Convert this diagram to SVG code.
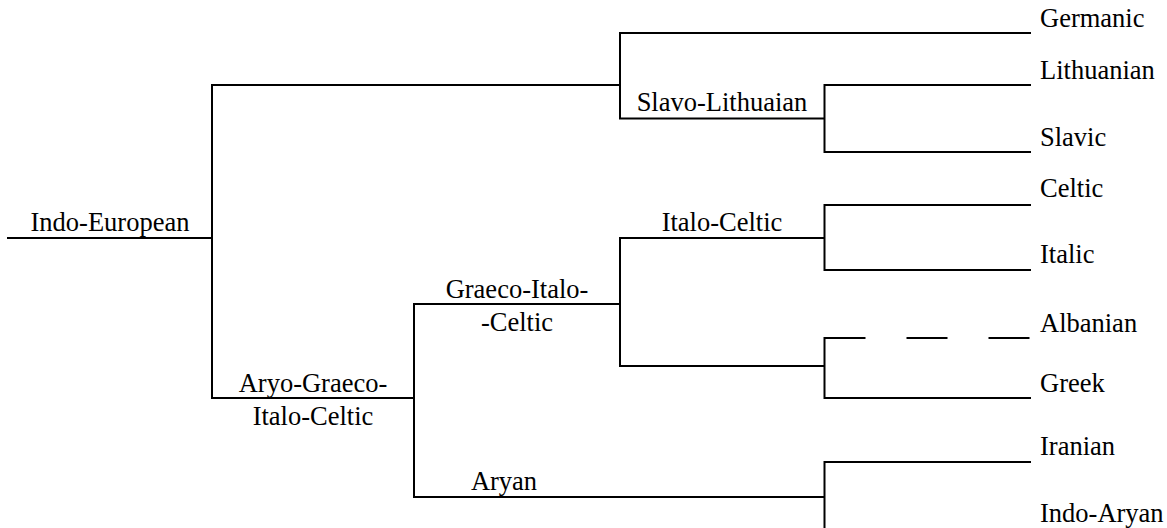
<svg xmlns="http://www.w3.org/2000/svg" width="1167" height="528" viewBox="0 0 1167 528">
<style>
.e{stroke:#000;stroke-width:2;fill:none;stroke-linecap:square}
.d{stroke-dasharray:41 41;stroke-linecap:butt}
</style>
<rect width="1167" height="528" fill="#fff"/>
<g id="connectors">
<path class="e" d="M8 238H212M212 85V398M212 85H620M620 33V118.5M620 33H1030M620 118.5H824.5M824.5 85V152M824.5 85H1030M824.5 152H1030"/>
<path class="e" d="M212 398H414M414 304V497M414 304H620M620 238V366M620 238H824.5M824.5 205V270M824.5 205H1030M824.5 270H1030M620 366H824.5M824.5 338V398M824.5 398H1030"/>
<path class="e d" d="M824.5 338H1030"/>
<path class="e" d="M414 497H824.5M824.5 462V530M824.5 462H1030"/>
</g>
<g id="indo-european"><text x="110" y="231" font-family="Liberation Serif" font-size="26.5" text-anchor="middle">Indo-European</text></g>
<g id="slavo-lithuaian"><text x="722" y="111" font-family="Liberation Serif" font-size="26.5" text-anchor="middle">Slavo-Lithuaian</text></g>
<g id="italo-celtic"><text x="722" y="231" font-family="Liberation Serif" font-size="26.5" text-anchor="middle">Italo-Celtic</text></g>
<g id="graeco-italo-celtic"><text x="517" y="298" font-family="Liberation Serif" font-size="26.5" text-anchor="middle">Graeco-Italo-</text><text x="517" y="331" font-family="Liberation Serif" font-size="26.5" text-anchor="middle">-Celtic</text></g>
<g id="aryo-graeco-italo-celtic"><text x="313" y="392" font-family="Liberation Serif" font-size="26.5" text-anchor="middle">Aryo-Graeco-</text><text x="313" y="424.5" font-family="Liberation Serif" font-size="26.5" text-anchor="middle">Italo-Celtic</text></g>
<g id="aryan"><text x="504" y="489.5" font-family="Liberation Serif" font-size="26.5" text-anchor="middle">Aryan</text></g>
<g id="germanic"><text x="1040" y="26.5" font-family="Liberation Serif" font-size="26.5">Germanic</text></g>
<g id="lithuanian"><text x="1040" y="79" font-family="Liberation Serif" font-size="26.5">Lithuanian</text></g>
<g id="slavic"><text x="1040" y="145.5" font-family="Liberation Serif" font-size="26.5">Slavic</text></g>
<g id="celtic"><text x="1040" y="197" font-family="Liberation Serif" font-size="26.5">Celtic</text></g>
<g id="italic"><text x="1040" y="263" font-family="Liberation Serif" font-size="26.5">Italic</text></g>
<g id="albanian"><text x="1040" y="332" font-family="Liberation Serif" font-size="26.5">Albanian</text></g>
<g id="greek"><text x="1040" y="392" font-family="Liberation Serif" font-size="26.5">Greek</text></g>
<g id="iranian"><text x="1040" y="455" font-family="Liberation Serif" font-size="26.5">Iranian</text></g>
<g id="indo-aryan"><text x="1040" y="522" font-family="Liberation Serif" font-size="26.5">Indo-Aryan</text></g>
</svg>
